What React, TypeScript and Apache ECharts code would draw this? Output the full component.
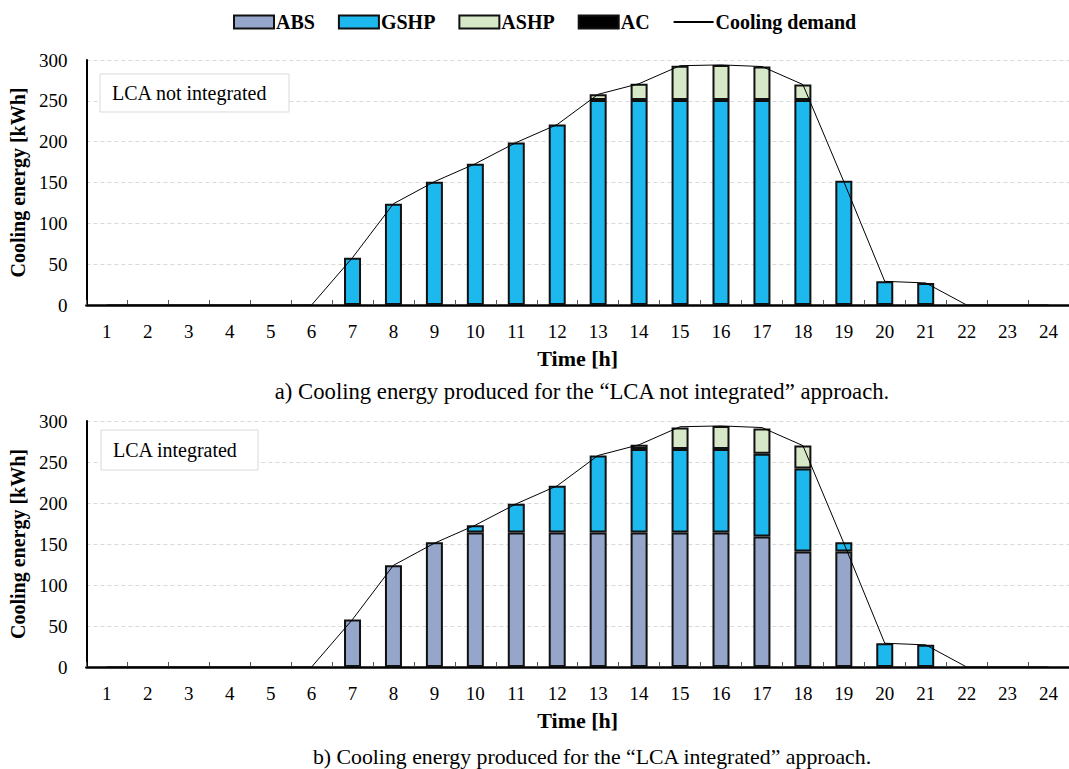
import React, { useEffect, useRef } from "react";
import * as echarts from "echarts";

const hours = ["1","2","3","4","5","6","7","8","9","10","11","12","13","14","15","16","17","18","19","20","21","22","23","24"];

// Panel a) LCA not integrated
const absA =  [0,0,0,0,0,0,0,0,0,0,0,0,0,0,0,0,0,0,0,0,0,0,0,0];
const gshpA = [0,0,0,0,0,0,58,124,151,173,199,221,251,251,251,251,251,251,152,29,27,0,0,0];
const ashpA = [0,0,0,0,0,0,0,0,0,0,0,0,7,20,42,43,41,19,0,0,0,0,0,0];
const acA =   [0,0,0,0,0,0,0,0,0,0,0,0,0,0,0,0,0,0,0,0,0,0,0,0];

// Panel b) LCA integrated
const absB =  [0,0,0,0,0,0,58,124,152,164,164,164,164,164,164,164,159,141,141,0,0,0,0,0];
const gshpB = [0,0,0,0,0,0,0,0,0,9,35,57,94,102,102,102,101,101,11,29,27,0,0,0];
const ashpB = [0,0,0,0,0,0,0,0,0,0,0,0,0,5,26,28,31,28,0,0,0,0,0,0];
const acB =   [0,0,0,0,0,0,0,0,0,0,0,0,0,0,0,0,0,0,0,0,0,0,0,0];

const demand = [0,0,0,0,0,0,58,124,151,173,199,221,258,271,293,294,292,270,151,29,27,0,0,0];

const yTicks = [0, 50, 100, 150, 200, 250, 300];

const FONT = "'Liberation Serif', 'Times New Roman', serif";
const COLORS = { ABS: "#95a6ca", GSHP: "#1db8ee", ASHP: "#d6e8c7", AC: "#000000" };

const nz = (arr: number[]) => arr.map((v) => (v === 0 ? "-" : v));

export default function App() {
  const ref = useRef<HTMLDivElement>(null);
  useEffect(() => {
    if (!ref.current) return;
    const chart = echarts.init(ref.current, undefined, { renderer: "svg" });

    const grids = [
      { left: 86, top: 60, width: 994, height: 245 },
      { left: 86, top: 421, width: 994, height: 246 },
    ];

    const xAxis = grids.map((_, i) => ({
      type: "category",
      gridIndex: i,
      data: hours,
      boundaryGap: true,
      axisLine: { lineStyle: { color: "#000", width: 2.5 } },
      axisTick: { show: true, inside: true, length: 5, lineStyle: { color: "#555", width: 1 } },
      axisLabel: { fontFamily: FONT, fontSize: 19, color: "#000", margin: 17 },
      name: "Time [h]",
      nameLocation: "middle",
      nameGap: 42,
      nameTextStyle: { fontFamily: FONT, fontSize: 22, fontWeight: "bold", color: "#000" },
    }));

    const yAxis = grids.map((_, i) => ({
      type: "value",
      gridIndex: i,
      min: yTicks[0],
      max: yTicks[yTicks.length - 1],
      interval: 50,
      axisLine: { show: true, lineStyle: { color: "#000", width: 2 } },
      axisTick: { show: false },
      axisLabel: { fontFamily: FONT, fontSize: 19, color: "#000", margin: 19 },
      splitLine: { show: true, lineStyle: { color: "#d9d9d9", type: [4, 3], width: 1 } },
      name: "Cooling energy [kWh]",
      nameLocation: "middle",
      nameGap: 56,
      nameTextStyle: { fontFamily: FONT, fontSize: 20, fontWeight: "bold", color: "#000" },
    }));

    const barStyle = (c: string) => ({ color: c, borderColor: "#111", borderWidth: 2 });
    const panels = [
      { abs: absA, gshp: gshpA, ashp: ashpA, ac: acA },
      { abs: absB, gshp: gshpB, ashp: ashpB, ac: acB },
    ];
    const series: any[] = [];
    panels.forEach((p, i) => {
      const mk = (name: string, data: number[]) => ({
        name,
        type: "bar",
        xAxisIndex: i,
        yAxisIndex: i,
        stack: "s" + i,
        barWidth: 17,
        data: nz(data),
        itemStyle: barStyle((COLORS as any)[name]),
      });
      series.push(mk("ABS", p.abs));
      series.push(mk("GSHP", p.gshp));
      series.push(mk("ASHP", p.ashp));
      series.push(mk("AC", p.ac));
      series.push({
        name: "Cooling demand",
        type: "line",
        xAxisIndex: i,
        yAxisIndex: i,
        data: demand,
        symbol: "none",
        showSymbol: false,
        z: 5,
        lineStyle: { color: "#000", width: 1 },
        itemStyle: { color: "#000" },
      });
    });

    const box = (x: number, y: number, w: number, h: number, text: string) => ({
      type: "group",
      children: [
        { type: "rect", shape: { x, y, width: w, height: h }, style: { fill: "#fff", stroke: "#d9d9d9", lineWidth: 1 }, z: 10 },
        { type: "text", x: x + 12, y: y + h / 2, style: { text, fontFamily: FONT, fontSize: 20, fill: "#000", verticalAlign: "middle" }, z: 11 },
      ],
    });

    chart.setOption({
      animation: false,
      backgroundColor: "#fff",
      textStyle: { fontFamily: FONT },
      legend: {
        top: 7,
        left: 228,
        itemWidth: 40,
        itemHeight: 13,
        itemGap: 23,
        data: [
          { name: "ABS", icon: "rect" },
          { name: "GSHP", icon: "rect" },
          { name: "ASHP", icon: "rect" },
          { name: "AC", icon: "rect" },
          { name: "Cooling demand", itemStyle: { color: "rgba(0,0,0,0)", borderWidth: 0 } },
        ],
        textStyle: { fontFamily: FONT, fontSize: 20, fontWeight: "bold", color: "#000", padding: [0, 0, 0, -3] },
      },
      grid: grids,
      xAxis,
      yAxis,
      series,
      graphic: [
        box(100, 74, 189, 38, "LCA not integrated"),
        box(101, 430, 157, 40, "LCA integrated"),
        {
          type: "text",
          x: 582,
          y: 391,
          style: { text: "a) Cooling energy produced for the \u201cLCA not integrated\u201d approach.", fontFamily: FONT, fontSize: 22.7, fill: "#000", align: "center", verticalAlign: "middle" },
        },
        {
          type: "text",
          x: 592,
          y: 757,
          style: { text: "b) Cooling energy produced for the \u201cLCA integrated\u201d approach.", fontFamily: FONT, fontSize: 21.8, fill: "#000", align: "center", verticalAlign: "middle" },
        },
      ],
    });
    return () => chart.dispose();
  }, []);
  return <div ref={ref} style={{ position: "fixed", left: 0, top: 0, width: 1069, height: 769 }} />;
}
